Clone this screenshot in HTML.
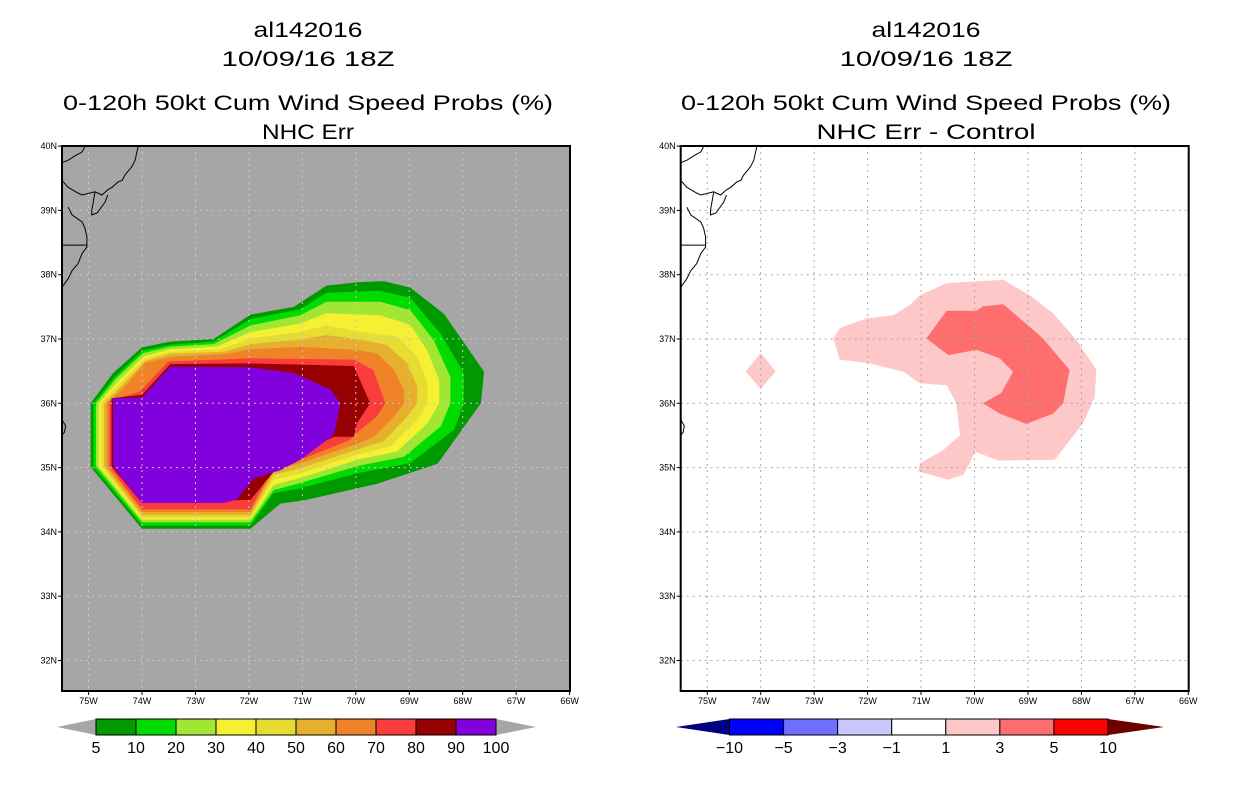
<!DOCTYPE html>
<html><head><meta charset="utf-8"><style>
html,body{margin:0;padding:0;background:#fff;}
svg{display:block;font-family:"Liberation Sans",sans-serif;}
</style></head><body>
<svg id="chart" width="1236" height="800" viewBox="0 0 1236 800" xmlns="http://www.w3.org/2000/svg">
<g id="root"></g>
</svg>
<script>
// ---- data (lon in degrees West, lat in degrees North) ----
const lonTicks = [75,74,73,72,71,70,69,68,67,66];
const latTicks = [32,33,34,35,36,37,38,39,40];
const probLevels = [5,10,20,30,40,50,60,70,80,90];
const probColors = ["#009900","#00dc00","#a0e632","#f5f032","#e6dc32","#e6af2d","#f08228","#fa3c3c","#960000","#8200dc"];
const probBarLabels = ["5","10","20","30","40","50","60","70","80","90","100"];
const diffBarLabels = ["\u221210","\u22125","\u22123","\u22121","1","3","5","10"];
const diffColors = ["#0000ff","#6e6eff","#c8c8ff","#ffffff","#ffc8c8","#ff6e6e","#ff0000"];
const p5 = [[74.96,36.0],[74.54,36.47],[74.0,36.87],[73.47,36.96],[72.66,37.0],[71.97,37.38],[71.16,37.5],[70.55,37.83],[69.98,37.88],[69.48,37.9],[68.98,37.8],[68.35,37.39],[67.6,36.49],[67.66,36.0],[68.47,35.06],[69.6,34.75],[70.97,34.49],[71.41,34.44],[71.97,34.05],[74.0,34.05],[74.96,35.01]];
const p10 = [[74.91,36.0],[74.5,36.42],[73.99,36.82],[73.47,36.91],[72.66,36.96],[71.97,37.31],[71.04,37.46],[70.55,37.72],[69.55,37.75],[68.98,37.64],[68.4,37.07],[67.98,36.47],[67.98,36.0],[68.16,35.59],[68.98,35.07],[69.98,34.91],[71.04,34.68],[71.54,34.6],[71.97,34.1],[74.0,34.1],[74.91,35.01]];
const p20 = [[74.86,36],[74.48,36.39],[73.98,36.78],[73.47,36.88],[72.66,36.92],[71.97,37.21],[71.04,37.37],[70.55,37.58],[69.55,37.58],[68.98,37.45],[68.54,36.98],[68.23,36.41],[68.23,36],[68.41,35.64],[69.1,35.17],[69.98,35.02],[71.04,34.76],[71.54,34.65],[71.97,34.15],[74,34.15],[74.86,35.02]];
const p30 = [[74.81,36],[74.44,36.35],[73.96,36.73],[73.47,36.84],[72.6,36.88],[71.97,37.11],[71.04,37.24],[70.55,37.4],[69.55,37.37],[68.98,37.22],[68.67,36.83],[68.44,36.36],[68.44,36],[68.66,35.69],[69.23,35.25],[69.98,35.12],[71.04,34.84],[71.54,34.73],[71.97,34.19],[74,34.19],[74.81,35.02]];
const p40 = [[74.76,36],[74.41,36.31],[73.94,36.7],[73.47,36.8],[72.54,36.84],[71.97,37.01],[71.04,37.11],[70.55,37.21],[69.92,37.11],[69.23,37.04],[68.85,36.73],[68.66,36.31],[68.66,36],[68.85,35.74],[69.35,35.33],[69.98,35.2],[71.04,34.91],[71.54,34.81],[71.97,34.22],[74,34.22],[74.76,35.02]];
const p50 = [[74.71,36],[74.38,36.27],[73.94,36.66],[73.47,36.77],[72.47,36.8],[71.97,36.92],[71.04,36.99],[70.55,37.06],[69.92,36.99],[69.42,36.91],[69.04,36.62],[68.85,36.26],[68.85,36],[69.04,35.79],[69.48,35.41],[69.98,35.28],[71.04,34.99],[71.54,34.89],[71.97,34.26],[74,34.26],[74.71,35.02]];
const p60 = [[74.66,36],[74.35,36.23],[73.94,36.63],[73.47,36.72],[72.41,36.77],[71.97,36.84],[71.04,36.88],[70.04,36.83],[69.61,36.78],[69.29,36.52],[69.1,36.21],[69.1,36],[69.29,35.79],[69.66,35.48],[70.04,35.35],[71.04,35.07],[71.54,34.96],[71.97,34.31],[74,34.31],[74.66,35.02]];
const p70 = [[74.61,36.04],[74.04,36.18],[73.51,36.65],[71.97,36.7],[70.04,36.68],[69.67,36.52],[69.45,36],[69.61,35.79],[69.92,35.59],[70.11,35.43],[71.04,35.12],[71.54,35.01],[71.97,34.35],[74,34.35],[74.61,35.02]];
const p80 = [[74.57,36.08],[74.0,36.13],[73.47,36.61],[71.97,36.62],[70.04,36.58],[69.73,36],[69.98,35.69],[70.04,35.48],[70.41,35.48],[71.04,35.22],[71.48,34.99],[71.97,34.5],[74,34.45],[74.57,35.02]];
const p90 = [[74.54,36.08],[74.0,36.09],[73.47,36.57],[71.97,36.56],[71.16,36.47],[70.48,36.22],[70.29,36],[70.41,35.51],[71.04,35.12],[71.41,34.96],[71.91,34.83],[72.23,34.5],[72.48,34.45],[74,34.45],[74.54,35.02]];
const d1 = [[72.64,37.01],[72.52,37.17],[72.02,37.32],[71.52,37.37],[71.21,37.53],[71.02,37.68],[70.52,37.87],[69.46,37.92],[68.97,37.68],[68.53,37.4],[68.09,36.98],[67.72,36.52],[67.75,36.1],[67.97,35.69],[68.5,35.12],[69.56,35.11],[69.99,35.25],[70.09,35.07],[70.21,34.89],[70.49,34.81],[71.05,34.94],[71.02,35.07],[70.59,35.27],[70.27,35.5],[70.34,36.0],[70.52,36.28],[71.02,36.31],[71.33,36.49],[71.96,36.62],[72.52,36.68]];
const d1b = [[74.28,36.5],[74,36.78],[73.72,36.5],[74,36.22]];
const d3 = [[70.9,37.01],[70.52,37.44],[69.96,37.44],[69.84,37.51],[69.46,37.54],[68.97,37.19],[68.72,37.01],[68.22,36.52],[68.34,36.0],[68.53,35.84],[69.03,35.68],[69.53,35.84],[69.84,36.0],[69.5,36.16],[69.28,36.49],[69.53,36.7],[69.96,36.83],[70.49,36.75]];
const coast = [
 [[75.5,39.74],[75.38,39.78],[75.25,39.85],[75.12,39.91],[75.07,39.99]],
 [[75.5,39.47],[75.38,39.36],[75.2,39.27],[75.12,39.24],[74.88,39.29],[74.75,39.24],[74.64,39.32],[74.56,39.36],[74.45,39.44],[74.37,39.47],[74.32,39.55],[74.19,39.68],[74.13,39.78],[74.09,39.93],[74.07,40.0]],
 [[74.88,39.29],[74.94,39.0],[74.94,38.93],[74.84,38.96],[74.69,39.13],[74.64,39.24]],
 [[75.38,39.05],[75.31,38.93],[75.12,38.82],[75.07,38.73],[75.03,38.59],[75.03,38.43],[75.12,38.33],[75.2,38.17],[75.31,38.06],[75.38,37.94],[75.5,37.8]],
 [[75.5,38.46],[75.03,38.46]]
];
const hatteras = [[75.5,35.75],[75.43,35.65],[75.45,35.55],[75.5,35.5]];

const svg = document.getElementById('root');
const NS = 'http://www.w3.org/2000/svg';
function mk(tag, attrs, parent){const e=document.createElementNS(NS,tag);for(const k in attrs)e.setAttribute(k,attrs[k]);(parent||svg).appendChild(e);return e;}
function xS(W,off){return 142+(74-W)*53.45+off;}
function yS(N){return 403.3-(N-36)*64.3;}
function pts(arr,off){return arr.map(p=>xS(p[0],off).toFixed(1)+','+yS(p[1]).toFixed(1)).join(' ');}

function drawPanel(off, bg, polys, colors, names, gridColor, panelName){
  const g = mk('g',{});
  
  
  const L=62+off, R=570+off, T=146, B=691;
  const cp = mk('clipPath',{id:'clip'+Math.round(off)},g);
  mk('rect',{x:L,y:T,width:R-L,height:B-T},cp);
  const bgr = mk('rect',{x:L,y:T,width:R-L,height:B-T,fill:bg},g);
  
  
  const cg = mk('g',{'clip-path':'url(#clip'+Math.round(off)+')'},g);
  polys.forEach((p,i)=>{
    const e = mk('polygon',{points:pts(p,off),fill:colors[i]},cg);
    
    
  });
  lonTicks.forEach(w=>{ const x=xS(w,off);
    const e=mk('line',{x1:x,y1:T,x2:x,y2:B,stroke:gridColor,'stroke-width':1,'stroke-dasharray':'2,4'},cg);
    
    });
  latTicks.forEach(n=>{ const y=yS(n);
    const e=mk('line',{x1:L,y1:y,x2:R,y2:y,stroke:gridColor,'stroke-width':1,'stroke-dasharray':'2,4'},cg);
    
    });
  coast.concat([hatteras]).forEach(c=>{
    const e=mk('polyline',{points:pts(c,off),fill:'none',stroke:'#000','stroke-width':1},cg);
    
    });
  const fr = mk('rect',{x:L,y:T,width:R-L,height:B-T,fill:'none',stroke:'#000','stroke-width':2},g);
  
  
  lonTicks.forEach(w=>{ const x=xS(w,off);
    mk('line',{x1:x,y1:B,x2:x,y2:B+4,stroke:'#000','stroke-width':1},g);
    const t=mk('text',{x:x,y:B+13,'font-size':9,'text-anchor':'middle',fill:'#000'},g);
    t.textContent=w+'W';
    
    });
  latTicks.forEach(n=>{ const y=yS(n);
    mk('line',{x1:L-4,y1:y,x2:L,y2:y,stroke:'#000','stroke-width':1},g);
    const t=mk('text',{x:L-5,y:y+3,'font-size':9,'text-anchor':'end',fill:'#000'},g);
    t.textContent=n+'N';
    
    });
}

function titles(cx, lines){
  const ys=[37,66,110,139], lens=[109,173,490,lines[3].length>8?219:92];
  lines.forEach((s,i)=>{
    const t=mk('text',{x:cx,y:ys[i],'font-size':21,'text-anchor':'middle',textLength:lens[i],lengthAdjust:'spacingAndGlyphs',fill:'#000'});
    t.textContent=s;
    
    
  });
}

drawPanel(0,'#a6a6a6',[p5,p10,p20,p30,p40,p50,p60,p70,p80,p90],probColors,
  ['contour-5','contour-10','contour-20','contour-30','contour-40','contour-50','contour-60','contour-70','contour-80','contour-90'],'#c8c8c8','left-map');
drawPanel(618.7,'#ffffff',[d1,d1b,d3],['#ffc8c8','#ffc8c8','#ff6e6e'],
  ['diff-contour-1','diff-contour-1-small','diff-contour-3'],'#a8a8a8','right-map');
titles(308,['al142016','10/09/16 18Z','0-120h 50kt Cum Wind Speed Probs (%)','NHC Err']);
titles(926,['al142016','10/09/16 18Z','0-120h 50kt Cum Wind Speed Probs (%)','NHC Err - Control']);

// left colorbar
(function(){
  const g=mk('g',{});  
  const x0=96,x1=496,y0=719,y1=735,n=probColors.length,w=(x1-x0)/n;
  const lt=mk('polygon',{points:`${x0},${y0} ${x0},${y1} 57,727`,fill:'#a6a6a6'},g);
   
  const rt=mk('polygon',{points:`${x1},${y0} ${x1},${y1} 536,727`,fill:'#a6a6a6'},g);
   
  probColors.forEach((c,i)=>{const r=mk('rect',{x:x0+i*w,y:y0,width:w,height:y1-y0,fill:c,stroke:'#000','stroke-width':1},g);
     });
  probBarLabels.forEach((s,i)=>{const t=mk('text',{x:x0+i*w,y:753,'font-size':16,'text-anchor':'middle',fill:'#000'},g);
    t.textContent=s;  });
})();
// right colorbar
(function(){
  const g=mk('g',{});  
  const x0=729.5,x1=1108,y0=719,y1=735,n=diffColors.length,w=(x1-x0)/n;
  const lt=mk('polygon',{points:`${x0},${y0} ${x0},${y1} 676,727`,fill:'#000080'},g);
   
  const rt=mk('polygon',{points:`${x1},${y0} ${x1},${y1} 1164,727`,fill:'#6e0000'},g);
   
  diffColors.forEach((c,i)=>{const r=mk('rect',{x:x0+i*w,y:y0,width:w,height:y1-y0,fill:c,stroke:'#000','stroke-width':1},g);
     });
  diffBarLabels.forEach((s,i)=>{const t=mk('text',{x:x0+i*w,y:753,'font-size':16,'text-anchor':'middle',fill:'#000'},g);
    t.textContent=s;  });
})();
</script>
</body></html>
